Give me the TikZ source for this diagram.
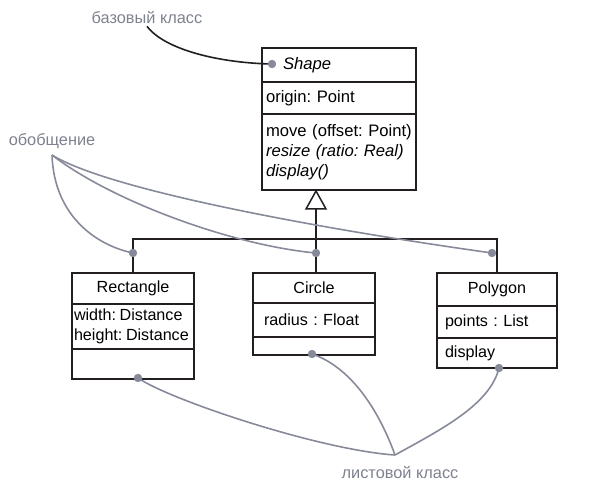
\documentclass[tikz,border=0pt]{standalone}
\usepackage{fontspec}
\setmainfont{Liberation Sans}
\definecolor{ln}{HTML}{231F20}
\definecolor{gr}{HTML}{878B99}
\definecolor{lbl}{HTML}{7E828F}
\newcommand{\fsz}{\fontsize{16.2}{20}\selectfont\frenchspacing\hyphenpenalty=10000\exhyphenpenalty=10000}
\newcommand{\fszb}{\fontsize{16.7}{20}\selectfont\frenchspacing\hyphenpenalty=10000\exhyphenpenalty=10000}
\begin{document}
\begin{tikzpicture}[x=1bp,y=-1bp,
  comp/.style={draw=ln, line width=1.5bp, anchor=north west, inner ysep=0pt, outer sep=0pt, font=\fsz, text=black},
  lbl/.style={text=lbl, font=\fontsize{16.4}{18}\selectfont, inner sep=2bp},
  gline/.style={draw=gr, line width=1.6bp},
  edge/.style={draw=ln, line width=1.5bp},
  gdot/.style={fill=gr, draw=none}]
\useasboundingbox (0,0) rectangle (604,488);

% Shape
\node[comp, font=\fszb, minimum width=154bp, minimum height=34bp, text width=146bp, inner xsep=4bp, align=left] (shN) at (262,48) {\hspace*{17bp}\textit{Shape}};
\node[comp, font=\fszb, minimum width=154bp, minimum height=32bp, text width=146bp, inner xsep=4bp, align=left] (shA) at (262,82) {origin: Point};
\node[comp, font=\fszb, minimum width=154bp, minimum height=76bp, text width=146bp, inner xsep=4bp, align=left] (shO) at (262,114) {move (offset: Point)\\\textit{resize (ratio: Real)}\\\textit{display()}};

% Rectangle
\node[comp, minimum width=122bp, minimum height=31bp, text width=118bp, inner xsep=2bp, align=center] (reN) at (72,273) {Rectangle};
\node[comp, minimum width=122bp, minimum height=45bp, text width=118bp, inner xsep=2bp, align=left] (reA) at (72,304) {\spaceskip=0.22em width: Distance\\height: Distance};
\node[comp, minimum width=122bp, minimum height=30bp, text width=118bp, inner xsep=2bp] (reO) at (72,349) {};

% Circle
\node[comp, minimum width=122bp, minimum height=30bp, text width=100bp, inner xsep=11bp, align=center] (ciN) at (253,273) {Circle};
\node[comp, minimum width=122bp, minimum height=34bp, text width=100bp, inner xsep=11bp, align=left] (ciA) at (253,303) {radius : Float};
\node[comp, minimum width=122bp, minimum height=18bp, text width=100bp, inner xsep=11bp] (ciO) at (253,337) {};

% Polygon
\node[comp, minimum width=120bp, minimum height=33bp, text width=104bp, inner xsep=8bp, align=center] (poN) at (437,273) {Polygon};
\node[comp, minimum width=120bp, minimum height=32bp, text width=104bp, inner xsep=8bp, align=left] (poA) at (437,306) {points : List};
\node[comp, minimum width=120bp, minimum height=30bp, text width=104bp, inner xsep=8bp, align=left] (poO) at (437,338) {display};

% Generalization tree
\coordinate (tip) at (316,191);
\coordinate (tb) at (316,209);
\coordinate (ciTop) at (316,273);
\coordinate (bar) at (316,239);
\draw[edge, line join=miter] (tip) -- (326,209) -- (306,209) -- cycle;
\draw[edge] (tb) -- (ciTop);
\draw[edge] (reN.north) |- (bar) -| (poN.north);

% Labels
\node[lbl] (lbBase) at (147,18) {базовый класс};
\node[lbl] (lbGen) at (52,141) {обобщение};
\node[lbl] (lbLeaf) at (400,473) {листовой класс};

\coordinate (gJ) at (52,155);
\coordinate (lJ) at (395,455);
\coordinate (dBase) at (272,64);
\coordinate (dR) at (133,253);
\coordinate (dC) at (316,253);
\coordinate (dP) at (492,253);
\coordinate (dRl) at (138,378);
\coordinate (dCl) at (312,354);
\coordinate (dPl) at (499,368);

% base class pointer
\draw[edge, line width=1.6bp] (lbBase.south) .. controls (165,50) and (220,63) .. (dBase);

% generalization pointers
\draw[gline] (gJ) .. controls (54,215) and (95,245) .. (dR);
\draw[gline] (gJ) .. controls (110,200) and (230,245) .. (dC);
\draw[gline] (gJ) .. controls (105,188) and (300,226) .. (dP);

% leaf class pointers
\draw[gline] (dRl) .. controls (170,400) and (320,450) .. (lJ);
\draw[gline] (dCl) .. controls (345,365) and (375,400) .. (lJ);
\draw[gline] (dPl) .. controls (490,405) and (440,430) .. (lJ);

% dots
\foreach \p in {dBase,dR,dC,dP,dRl,dCl,dPl}
  \fill[gdot] (\p) circle (4.2bp);
\end{tikzpicture}
\end{document}
